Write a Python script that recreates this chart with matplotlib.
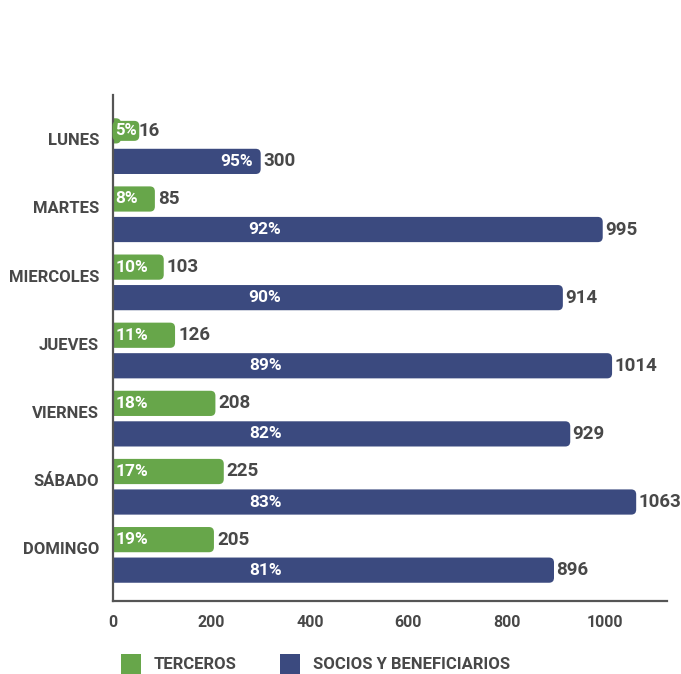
import matplotlib.pyplot as plt
from matplotlib.patches import FancyBboxPatch, Patch
import numpy as np

days = ['LUNES', 'MARTES', 'MIERCOLES', 'JUEVES', 'VIERNES', 'SÁBADO', 'DOMINGO']
terceros = [16, 85, 103, 126, 208, 225, 205]
socios = [300, 995, 914, 1014, 929, 1063, 896]
terceros_pct = ['5%', '8%', '10%', '11%', '18%', '17%', '19%']
socios_pct = ['95%', '92%', '90%', '89%', '82%', '83%', '81%']

GREEN = '#67a64a'
BLUE = '#3b4a7f'
TXT = '#484848'

plt.rcParams['font.family'] = ['Roboto', 'DejaVu Sans']
plt.rcParams['font.weight'] = 'bold'

fig = plt.figure(figsize=(6.81, 6.74), dpi=100)
ax = fig.add_axes([0.166, 0.108, 0.813, 0.751])

y = np.arange(len(days))
off = 0.224
h = 0.37

bars_g = ax.barh(y - off, terceros, height=h, color=GREEN)
bars_b = ax.barh(y + off, socios, height=h, color=BLUE)

ax.set_xlim(0, 1125)
ax.set_ylim(6.68, -0.75)

# swap square bars for rounded ones
r = 10
for bars in (bars_g, bars_b):
    for p in bars:
        p.set_visible(False)
        x0, y0, w, hh = p.get_x(), p.get_y(), p.get_width(), p.get_height()
        fb = FancyBboxPatch((x0 - r, y0), w + r, hh,
                            boxstyle=f'round,pad=0,rounding_size={r}',
                            mutation_aspect=0.0074,
                            facecolor=p.get_facecolor(), edgecolor='none')
        ax.add_patch(fb)

PCT = 12.5
VAL = 13.5
for i in range(len(days)):
    # green
    gy = y[i] - off
    if terceros[i] < 50:
        ax.text(4, gy, terceros_pct[i], color='white', fontsize=PCT - 0.5,
                fontweight='bold', va='center', ha='left',
                bbox=dict(boxstyle='round,pad=0.15,rounding_size=0.3',
                          fc=GREEN, ec='none'))
        ax.text(52, gy, str(terceros[i]), color=TXT, fontsize=VAL,
                fontweight='bold', va='center', ha='left')
    else:
        ax.text(5, gy, terceros_pct[i], color='white', fontsize=PCT,
                fontweight='bold', va='center', ha='left')
        ax.text(terceros[i] + 6, gy, str(terceros[i]), color=TXT,
                fontsize=VAL, fontweight='bold', va='center', ha='left')
    # blue
    by = y[i] + off
    if socios[i] < 600:
        ax.text(socios[i] - 16, by, socios_pct[i], color='white',
                fontsize=PCT, fontweight='bold', va='center', ha='right')
    else:
        ax.text(309, by, socios_pct[i], color='white', fontsize=PCT,
                fontweight='bold', va='center', ha='center')
    ax.text(socios[i] + 5, by, str(socios[i]), color=TXT, fontsize=VAL,
            fontweight='bold', va='center', ha='left')

ax.set_yticks(y - 0.1)
ax.set_yticklabels(days, fontsize=12, fontweight='bold', color=TXT)
ax.set_xticks([0, 200, 400, 600, 800, 1000])
ax.tick_params(axis='both', length=0, colors=TXT)
ax.tick_params(axis='x', labelsize=11.5, pad=10)
ax.tick_params(axis='y', pad=10)
for lab in ax.get_xticklabels():
    lab.set_fontweight('bold')

for s in ('top', 'right'):
    ax.spines[s].set_visible(False)
for s in ('left', 'bottom'):
    ax.spines[s].set_color('#555555')
    ax.spines[s].set_linewidth(1.6)

handles = [Patch(facecolor=GREEN, label='TERCEROS'),
           Patch(facecolor=BLUE, label='SOCIOS Y BENEFICIARIOS')]
leg = fig.legend(handles=handles, loc='center left', bbox_to_anchor=(0.155, 0.015),
                 ncol=2, frameon=False, handlelength=1.2, handleheight=1.4,
                 handletextpad=0.8, columnspacing=2.6,
                 prop={'size': 12, 'weight': 'bold'})
for t in leg.get_texts():
    t.set_color(TXT)

fig.savefig('out.png', dpi=100)
